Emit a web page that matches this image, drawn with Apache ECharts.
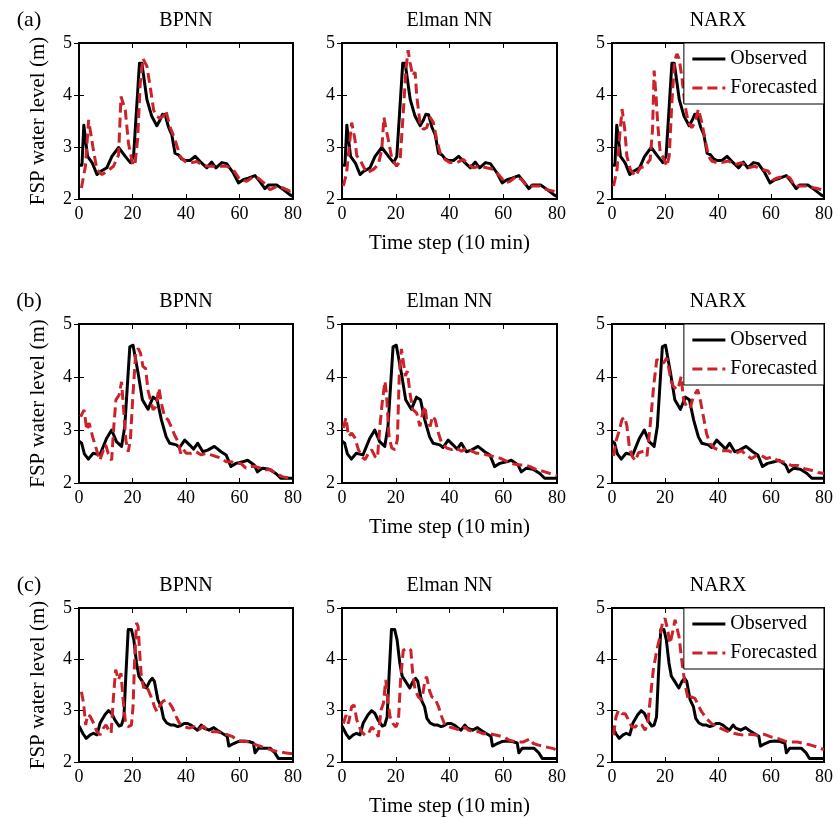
<!DOCTYPE html>
<html><head><meta charset="utf-8">
<script src="https://cdn.jsdelivr.net/npm/echarts@6/dist/echarts.min.js"></script>
<style>html,body{margin:0;padding:0;background:#fff}#c{width:838px;height:818px}</style>
</head><body><div id="c"></div>
<script>
// ---------- data ----------
const xTicks = [0, 20, 40, 60, 80];
const yTicks = [2, 3, 4, 5];
const models = ['BPNN', 'Elman NN', 'NARX'];
const panelTags = ['(a)', '(b)', '(c)'];
const legendNames = ['Observed', 'Forecasted'];
const xAxisTitle = 'Time step (10 min)';
const yAxisTitle = 'FSP water level (m)';

// observed, row (a)
const obsA = [[0,2.65],[1.1,2.65],[1.8,3.42],[2.3,3.4],[3.2,2.82],[5,2.69],[6.7,2.47],[8,2.53],[10.4,2.6],[12.3,2.82],[14.8,2.99],[17.3,2.82],[19.2,2.7],[20.4,2.82],[22.6,4.61],[23.5,4.61],[25.4,3.91],[27.2,3.59],[29.1,3.41],[30.3,3.52],[31.2,3.63],[32.2,3.62],[33.4,3.39],[34.7,3.23],[35.9,2.88],[37.2,2.85],[38.4,2.77],[39.7,2.74],[41.5,2.74],[43.4,2.82],[45.3,2.72],[47.8,2.6],[49.6,2.71],[51.2,2.6],[53.4,2.7],[55.2,2.68],[57.7,2.5],[59.6,2.31],[61.4,2.37],[63.3,2.4],[65.8,2.45],[67.7,2.33],[69.5,2.2],[70.8,2.27],[73.9,2.27],[76.4,2.18],[78.9,2.08],[80,2.05]];
// observed, row (b)
const obsB = [[0,2.79],[1,2.75],[2,2.55],[3.5,2.45],[5.3,2.56],[7.8,2.53],[10.3,2.84],[12.2,3.0],[14,2.78],[15.9,2.69],[17.1,3.06],[19,4.57],[20.2,4.6],[22.1,4.07],[23.7,3.57],[25.8,3.39],[27.7,3.62],[29.2,3.57],[30.8,3.19],[32.6,2.87],[33.9,2.75],[36.4,2.72],[37.6,2.67],[39.5,2.81],[41.3,2.72],[42.8,2.64],[44.4,2.75],[46.3,2.59],[48.1,2.62],[50.6,2.69],[53.1,2.59],[55,2.53],[56.8,2.31],[58.7,2.37],[61.2,2.4],[63,2.43],[65.5,2.34],[66.7,2.21],[68.6,2.28],[71.1,2.26],[73.6,2.18],[75.4,2.09],[80,2.09]];
// observed, row (c)
const obsC = [[0,2.7],[1.5,2.55],[2.7,2.46],[4.2,2.53],[5.4,2.56],[6.7,2.53],[7.9,2.76],[9.7,2.92],[11,3.0],[12.2,2.95],[13.4,2.82],[15,2.7],[15.9,2.72],[16.8,2.88],[17.5,3.67],[18.4,4.58],[19.6,4.58],[20.5,4.38],[21.5,3.93],[22.4,3.67],[23.3,3.6],[25.2,3.44],[26.4,3.57],[27.4,3.63],[28.2,3.57],[29.5,3.21],[30.7,3.08],[31.6,2.85],[32.8,2.76],[34.4,2.72],[35.6,2.72],[36.9,2.69],[38.1,2.71],[39.3,2.75],[40.6,2.75],[41.8,2.72],[43,2.67],[44.3,2.62],[45.7,2.72],[46.7,2.66],[48.6,2.62],[50.4,2.67],[51.7,2.62],[53.5,2.56],[55.4,2.5],[56,2.31],[57.8,2.36],[59.7,2.4],[61.5,2.41],[63.4,2.4],[65.2,2.37],[65.8,2.18],[67.1,2.27],[71.4,2.27],[73.2,2.18],[74.5,2.07],[80,2.07]];

// forecasts, row (a)
const fcA_BPNN = [[0.9,2.21],[2.4,2.63],[3.6,3.52],[4,3.55],[5.2,3.0],[6.7,2.56],[8.6,2.47],[10.4,2.53],[12.9,2.63],[14.8,2.85],[15.7,3.97],[16.3,4.0],[17.3,3.71],[18.5,3.07],[20.1,2.66],[20.9,2.65],[21.9,3.14],[22.9,4.23],[23.9,4.7],[24.4,4.72],[25.4,4.55],[26.6,4.16],[27.9,3.71],[29.1,3.59],[30.3,3.55],[31.6,3.6],[32.5,3.7],[34,3.39],[35.9,3.14],[37.8,2.82],[39.7,2.72],[41.5,2.69],[44,2.72],[46.5,2.64],[48.4,2.63],[50.2,2.63],[52.7,2.63],[55.2,2.63],[57.7,2.56],[60.2,2.37],[62.7,2.34],[65.2,2.43],[67,2.4],[68.9,2.32],[71.4,2.18],[73.9,2.24],[76.4,2.21],[78.9,2.15],[80,2.19]];
const fcA_Elman = [[0.5,2.25],[1.7,2.5],[3.6,3.47],[4,3.5],[4.8,3.15],[5.5,2.83],[6.7,2.76],[7.9,2.63],[9.2,2.5],[11.7,2.57],[13.5,2.66],[14.8,2.95],[15.6,3.57],[16.4,3.34],[17.2,3.15],[18.5,2.79],[20.3,2.63],[21.6,2.73],[22.8,3.66],[23.8,4.5],[24.6,4.86],[25.3,4.63],[26.3,4.37],[27.2,4.44],[27.8,3.99],[29,3.47],[30.3,3.34],[31.5,3.37],[32.8,3.57],[34,3.47],[35.2,3.15],[36.5,2.89],[38.3,2.76],[40.2,2.7],[42.7,2.7],[45.2,2.76],[47,2.66],[48.9,2.6],[51.4,2.63],[53.8,2.6],[56.3,2.57],[58.8,2.44],[60.7,2.31],[62.5,2.34],[65,2.44],[66.9,2.37],[68.7,2.25],[71.2,2.25],[73.7,2.25],[76.2,2.18],[78.7,2.15],[80,2.12]];
const fcA_NARX = [[0.6,2.25],[1.9,2.57],[3.1,3.34],[3.8,3.73],[4.8,3.34],[5.6,2.83],[6.9,2.57],[8.8,2.44],[10.7,2.6],[12.5,2.63],[14.4,2.76],[15.3,3.34],[15.9,4.47],[16.6,3.99],[17.3,3.41],[18.2,2.89],[19.4,2.79],[20.7,2.63],[21.6,2.83],[22.6,3.86],[23.6,4.66],[24.5,4.79],[25.3,4.7],[26.3,4.37],[27.6,3.79],[28.8,3.47],[30.1,3.37],[31.3,3.47],[32.6,3.73],[33.9,3.47],[35.1,3.15],[36.4,2.83],[37.6,2.73],[39.5,2.7],[41.4,2.7],[43.9,2.73],[46.4,2.66],[48.9,2.7],[51.4,2.6],[53.9,2.63],[56.4,2.57],[58.9,2.54],[60.8,2.37],[62.7,2.41],[65.2,2.44],[67.1,2.41],[69,2.25],[71.5,2.25],[74,2.25],[76.5,2.21],[79,2.18],[80,2.15]];

// forecasts, row (b)
const fcB_BPNN = [[0.6,3.25],[1.9,3.38],[2.9,3.0],[3.8,3.13],[5.1,2.87],[6.6,2.62],[7.8,2.43],[9.1,2.62],[10,2.72],[10.9,2.56],[12.2,2.43],[13,3.06],[13.8,3.57],[15,3.66],[15.9,3.91],[16.7,3.38],[17.5,2.81],[18.4,2.59],[19.2,2.81],[20.2,3.69],[21.2,4.45],[22.1,4.54],[23,4.45],[23.9,4.2],[24.9,4.16],[25.8,3.75],[26.7,3.57],[27.7,3.38],[28.7,3.44],[29.9,3.79],[30.8,3.5],[32,3.25],[33.3,3.19],[34.5,3.06],[35.7,2.91],[37,2.78],[38,2.56],[38.8,2.65],[40.1,2.56],[41.9,2.56],[43.8,2.59],[45.7,2.53],[47.5,2.56],[49.4,2.53],[51.2,2.5],[53.1,2.47],[55,2.4],[56.8,2.4],[58.7,2.37],[60.5,2.37],[62.4,2.28],[64.3,2.31],[66.1,2.31],[68,2.28],[69.8,2.25],[71.7,2.25],[73.6,2.18],[76,2.12],[78.5,2.09],[80,2.09]];
const fcB_Elman = [[0.5,3.04],[1.5,3.23],[2.4,2.88],[3.6,2.94],[4.8,2.85],[6.1,2.63],[7.3,2.5],[8.6,2.44],[9.8,2.56],[11,2.63],[12.3,2.5],[13.2,2.47],[14.1,3.07],[15.1,3.58],[16,3.92],[16.6,3.64],[17.5,2.88],[18.5,2.66],[19.7,2.63],[20.6,2.82],[21.3,4.02],[22.1,4.53],[22.8,4.53],[23.6,4.02],[24.3,4.11],[25.3,3.7],[26.3,3.39],[27.8,3.32],[29,3.07],[30,3.32],[30.9,3.45],[31.5,3.2],[32.8,3.07],[33.7,3.26],[34.6,3.2],[35.9,2.94],[37.1,2.75],[39,2.66],[40.8,2.63],[42.7,2.66],[44.5,2.6],[46.4,2.66],[48.3,2.6],[50.1,2.56],[52,2.56],[53.8,2.53],[56.3,2.5],[58.8,2.47],[61.3,2.41],[63.8,2.36],[66.3,2.34],[68.1,2.34],[70,2.31],[72.5,2.25],[74.9,2.22],[77.4,2.18],[80,2.14]];
const fcB_NARX = [[0.6,2.51],[1.5,2.79],[2.5,2.95],[3.8,3.2],[4.8,3.24],[5.6,3.08],[6.5,2.7],[7.5,2.51],[8.8,2.42],[10,2.57],[11.9,2.6],[13.2,2.51],[14.4,3.08],[15.7,3.82],[16.9,4.33],[18.2,4.3],[19.4,4.26],[20.7,4.36],[21.3,4.2],[22.3,3.92],[23.2,3.82],[24.5,3.76],[25.3,3.85],[26.1,4.01],[27,3.57],[28.2,3.44],[29.5,3.41],[30.7,3.63],[32.3,3.76],[33.2,3.6],[34.5,3.25],[35.7,2.93],[37,2.74],[38.9,2.65],[41.4,2.61],[43.9,2.61],[46.4,2.55],[48.9,2.61],[50.8,2.52],[52.7,2.46],[54.5,2.52],[56.4,2.52],[58.3,2.46],[60.2,2.49],[62.7,2.42],[65.2,2.39],[67.7,2.33],[70.2,2.33],[72.7,2.27],[75.2,2.24],[77.7,2.2],[80,2.18]];

// forecasts, row (c)
const fcC_BPNN = [[0.9,3.37],[1.7,3.15],[2.5,2.72],[3.2,2.92],[4.2,2.89],[5.4,2.76],[6.7,2.59],[7.9,2.53],[9.1,2.66],[10.1,2.72],[11,2.63],[12,2.56],[12.8,3.21],[13.7,3.8],[14.7,3.6],[15.7,3.73],[16.5,3.21],[17.4,2.76],[18.4,2.69],[19.6,2.72],[20.2,3.08],[20.8,3.99],[21.5,4.71],[22.1,4.64],[22.7,4.12],[23.3,3.66],[24.2,3.44],[25.2,3.5],[26.4,3.34],[27.4,3.21],[28.2,3.08],[29.1,2.98],[30.1,3.08],[31.3,3.18],[32.6,3.21],[33.8,3.15],[35,3.05],[36.3,2.89],[37.5,2.76],[39.3,2.69],[41.2,2.66],[43,2.69],[44.9,2.63],[46.4,2.7],[48,2.63],[49.8,2.59],[51.7,2.59],[53.5,2.56],[55.4,2.53],[57.2,2.5],[59.1,2.43],[60.9,2.4],[62.8,2.4],[64.6,2.37],[66.5,2.33],[68.3,2.3],[70.2,2.27],[72,2.23],[74.5,2.2],[76.9,2.18],[80,2.16]];
const fcC_Elman = [[0.5,2.75],[1.5,2.91],[2.4,2.75],[3.6,3.08],[4.5,3.11],[5.5,2.82],[6.5,2.68],[7.3,2.59],[8.6,2.52],[9.8,2.55],[11,2.68],[12.3,2.62],[13.5,2.49],[14.5,3.01],[15.4,3.14],[16.3,3.6],[17,3.21],[17.9,2.88],[18.9,2.75],[20.1,2.68],[21,2.81],[21.8,3.6],[22.8,4.18],[24.7,4.22],[25.6,4.18],[26.3,3.73],[27.2,3.4],[28.4,3.27],[29.7,3.21],[30.9,3.6],[31.5,3.66],[32.5,3.4],[33.4,3.27],[34.6,3.24],[35.9,3.08],[37.1,2.88],[38.3,2.72],[40.2,2.68],[42.1,2.65],[43.9,2.62],[45.8,2.68],[47,2.62],[48.9,2.59],[50.7,2.59],[52.6,2.55],[55.1,2.55],[57.6,2.52],[60.1,2.49],[62.5,2.42],[65,2.39],[67.5,2.39],[70,2.45],[71.2,2.36],[73.7,2.32],[76.2,2.29],[78.7,2.26],[80,2.23]];
const fcC_NARX = [[0.6,2.52],[1.5,2.88],[2.5,3.01],[3.8,2.94],[5,2.94],[6.3,2.81],[7.5,2.68],[8.8,2.68],[10,2.75],[11.3,2.72],[12.5,2.62],[13.5,2.75],[14.4,3.21],[15.6,3.8],[16.9,4.18],[18.1,4.44],[19,4.7],[20,4.8],[21,4.57],[21.9,4.31],[22.8,4.51],[23.8,4.77],[24.4,4.74],[25.3,4.44],[26.3,3.99],[27.5,3.53],[28.8,3.21],[30,3.27],[31.3,3.24],[32.5,3.11],[33.8,2.98],[35.6,2.85],[37.5,2.75],[40,2.68],[42.5,2.62],[45,2.57],[47.5,2.54],[50,2.52],[52.5,2.54],[55,2.52],[57.5,2.54],[60,2.49],[62.5,2.46],[65,2.41],[67.5,2.39],[70,2.39],[72.5,2.36],[75,2.33],[77.5,2.29],[80,2.24]];

const observedRows = [obsA, obsB, obsC];
const forecastRows = [
  [fcA_BPNN, fcA_Elman, fcA_NARX],
  [fcB_BPNN, fcB_Elman, fcB_NARX],
  [fcC_BPNN, fcC_Elman, fcC_NARX]
];

// ---------- layout ----------
const FONT = '"Liberation Serif", "Times New Roman", serif';
const rowTop = [43, 324, 608];
const rowH = [156, 159, 154];
const colLeft = [79, 342, 612];
const colW = [214, 215, 212];
const RED = '#cc2229';

const grids = [], xAxes = [], yAxes = [], series = [], graphics = [], legends = [];
for (let r = 0; r < 3; r++) {
  for (let c = 0; c < 3; c++) {
    const g = r * 3 + c;
    grids.push({left: colLeft[c], top: rowTop[r], width: colW[c], height: rowH[r],
      show: true, borderColor: '#000', borderWidth: 2, backgroundColor: 'transparent', containLabel: false});
    const tick = {inside: true, length: 5, lineStyle: {color: '#000', width: 1}};
    const xBase = {gridIndex: g, type: 'value', min: xTicks[0], max: xTicks[xTicks.length-1], interval: xTicks[1]-xTicks[0],
      axisLine: {show: false}, axisTick: tick, splitLine: {show: false}};
    xAxes.push(Object.assign({}, xBase, {position: 'bottom',
      axisLabel: {fontFamily: FONT, fontSize: 18, color: '#000', margin: 6}}));
    xAxes.push(Object.assign({}, xBase, {position: 'top', axisLabel: {show: false}}));
    const yBase = {gridIndex: g, type: 'value', min: yTicks[0], max: yTicks[yTicks.length-1], interval: yTicks[1]-yTicks[0],
      axisLine: {show: false}, axisTick: tick, splitLine: {show: false}};
    yAxes.push(Object.assign({}, yBase, {position: 'left',
      axisLabel: {fontFamily: FONT, fontSize: 18, color: '#000', margin: 7}}));
    yAxes.push(Object.assign({}, yBase, {position: 'right', axisLabel: {show: false}}));

    series.push({type: 'line', name: legendNames[0], xAxisIndex: 2*g, yAxisIndex: 2*g,
      data: observedRows[r], symbol: 'none', showSymbol: false, animation: false,
      lineStyle: {color: '#000', width: 3, join: 'round'}, itemStyle: {color: '#000'}, z: 2});
    series.push({type: 'line', name: legendNames[1], xAxisIndex: 2*g, yAxisIndex: 2*g,
      data: forecastRows[r][c], symbol: 'none', showSymbol: false, animation: false,
      lineStyle: {color: RED, width: 3, type: [10, 5]}, itemStyle: {color: RED}, z: 3});

    graphics.push({type: 'text', x: colLeft[c] + colW[c]/2, y: rowTop[r] - 22,
      style: {text: models[c], fontFamily: FONT, fontSize: 20, fill: '#000', textAlign: 'center', textVerticalAlign: 'middle', verticalAlign: 'middle'}});
  }
  graphics.push({type: 'text', x: 29, y: rowTop[r] - 23,
    style: {text: panelTags[r], fontFamily: FONT, fontSize: 22, fill: '#000', textAlign: 'center', textVerticalAlign: 'middle', verticalAlign: 'middle'}});
  graphics.push({type: 'text', x: colLeft[1] + colW[1]/2, y: rowTop[r] + rowH[r] + 44,
    style: {text: xAxisTitle, fontFamily: FONT, fontSize: 21, fill: '#000', textAlign: 'center', textVerticalAlign: 'middle', verticalAlign: 'middle'}});
  graphics.push({type: 'text', x: 38, y: rowTop[r] + rowH[r]/2, rotation: Math.PI/2,
    style: {text: yAxisTitle, fontFamily: FONT, fontSize: 21, fill: '#000', textAlign: 'center', textVerticalAlign: 'middle', verticalAlign: 'middle'}});
  legends.push({data: legendNames, orient: 'vertical', right: 838 - 824, top: rowTop[r],
    itemWidth: 33, itemHeight: 14, itemGap: 9, padding: [6, 7, 6, 7],
    backgroundColor: '#fff', borderColor: '#000', borderWidth: 1, borderRadius: 0,
    itemStyle: {opacity: 0, borderWidth: 0},
    lineStyle: {width: 3},
    selectedMode: false, textStyle: {fontFamily: FONT, fontSize: 20, color: '#000', padding: [0, 0, 0, 0]}});
}

const chart = echarts.init(document.getElementById('c'), null, {renderer: 'canvas'});
chart.setOption({
  animation: false,
  backgroundColor: '#fff',
  grid: grids, xAxis: xAxes, yAxis: yAxes, series: series,
  legend: legends, graphic: graphics
});
</script></body></html>
